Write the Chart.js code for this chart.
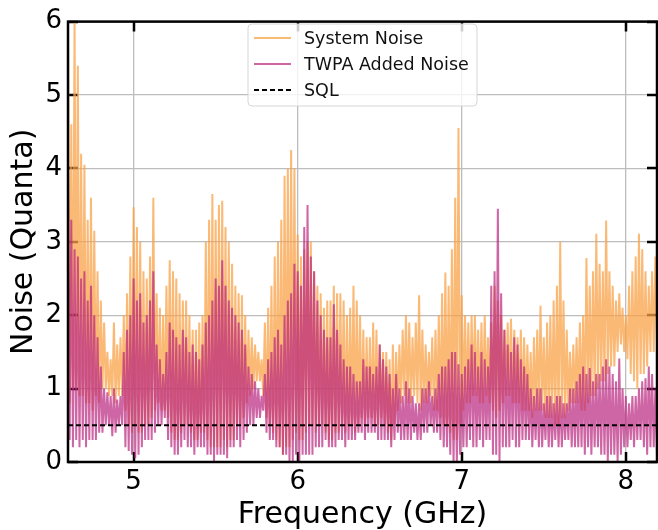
<!DOCTYPE html>
<html>
<head>
<meta charset="utf-8">
<script src="https://cdn.jsdelivr.net/npm/chart.js@4"></script>
<style>
  html, body { margin: 0; padding: 0; background: #fff; }
  #wrap { width: 658px; height: 530px; }
</style>
</head>
<body>
<div id="wrap"><canvas id="noiseChart" width="658" height="530"></canvas></div>
<script>
// Frequency samples (GHz), one row per 0.2 GHz
const freq = [
  4.60,4.61,4.62,4.63,4.64,4.65,4.66,4.67,4.68,4.69,4.70,4.71,4.72,4.73,4.74,4.75,4.76,4.77,4.78,4.79,
  4.80,4.81,4.82,4.83,4.84,4.85,4.86,4.87,4.88,4.89,4.90,4.91,4.92,4.93,4.94,4.95,4.96,4.97,4.98,4.99,
  5.00,5.01,5.02,5.03,5.04,5.05,5.06,5.07,5.08,5.09,5.10,5.11,5.12,5.13,5.14,5.15,5.16,5.17,5.18,5.19,
  5.20,5.21,5.22,5.23,5.24,5.25,5.26,5.27,5.28,5.29,5.30,5.31,5.32,5.33,5.34,5.35,5.36,5.37,5.38,5.39,
  5.40,5.41,5.42,5.43,5.44,5.45,5.46,5.47,5.48,5.49,5.50,5.51,5.52,5.53,5.54,5.55,5.56,5.57,5.58,5.59,
  5.60,5.61,5.62,5.63,5.64,5.65,5.66,5.67,5.68,5.69,5.70,5.71,5.72,5.73,5.74,5.75,5.76,5.77,5.78,5.79,
  5.80,5.81,5.82,5.83,5.84,5.85,5.86,5.87,5.88,5.89,5.90,5.91,5.92,5.93,5.94,5.95,5.96,5.97,5.98,5.99,
  6.00,6.01,6.02,6.03,6.04,6.05,6.06,6.07,6.08,6.09,6.10,6.11,6.12,6.13,6.14,6.15,6.16,6.17,6.18,6.19,
  6.20,6.21,6.22,6.23,6.24,6.25,6.26,6.27,6.28,6.29,6.30,6.31,6.32,6.33,6.34,6.35,6.36,6.37,6.38,6.39,
  6.40,6.41,6.42,6.43,6.44,6.45,6.46,6.47,6.48,6.49,6.50,6.51,6.52,6.53,6.54,6.55,6.56,6.57,6.58,6.59,
  6.60,6.61,6.62,6.63,6.64,6.65,6.66,6.67,6.68,6.69,6.70,6.71,6.72,6.73,6.74,6.75,6.76,6.77,6.78,6.79,
  6.80,6.81,6.82,6.83,6.84,6.85,6.86,6.87,6.88,6.89,6.90,6.91,6.92,6.93,6.94,6.95,6.96,6.97,6.98,6.99,
  7.00,7.01,7.02,7.03,7.04,7.05,7.06,7.07,7.08,7.09,7.10,7.11,7.12,7.13,7.14,7.15,7.16,7.17,7.18,7.19,
  7.20,7.21,7.22,7.23,7.24,7.25,7.26,7.27,7.28,7.29,7.30,7.31,7.32,7.33,7.34,7.35,7.36,7.37,7.38,7.39,
  7.40,7.41,7.42,7.43,7.44,7.45,7.46,7.47,7.48,7.49,7.50,7.51,7.52,7.53,7.54,7.55,7.56,7.57,7.58,7.59,
  7.60,7.61,7.62,7.63,7.64,7.65,7.66,7.67,7.68,7.69,7.70,7.71,7.72,7.73,7.74,7.75,7.76,7.77,7.78,7.79,
  7.80,7.81,7.82,7.83,7.84,7.85,7.86,7.87,7.88,7.89,7.90,7.91,7.92,7.93,7.94,7.95,7.96,7.97,7.98,7.99,
  8.00,8.01,8.02,8.03,8.04,8.05,8.06,8.07,8.08,8.09,8.10,8.11,8.12,8.13,8.14,8.15,8.16,8.17,8.18,8.19
];

// System noise (quanta)
const systemNoise = [
  5.8,0.8, 4.6,1.0, 6.05,1.0, 5.4,0.9, 4.2,0.9, 4.05,0.8, 3.3,0.8, 3.6,0.7, 3.15,0.9, 2.6,0.8,
  2.2,1.0, 1.9,1.0, 1.5,0.9, 1.4,0.9, 1.9,0.8, 1.6,0.9, 1.7,0.9, 2.0,0.7, 2.3,0.5, 2.8,0.4,
  3.47,0.5, 3.2,0.4, 3.0,0.4, 2.6,0.5, 2.5,0.5, 2.8,0.6, 3.6,0.7, 2.3,0.8, 2.1,0.7, 2.0,0.7,
  2.4,0.6, 2.75,0.4, 2.6,0.3, 2.5,0.3, 2.3,0.4, 2.2,0.5, 2.2,0.5, 2.0,0.4, 1.8,0.3, 1.8,0.3,
  1.9,0.4, 2.0,0.4, 3.0,0.3, 3.3,0.2, 3.65,0.2, 3.3,0.2, 3.5,0.2, 3.56,0.3, 3.2,0.2, 3.0,0.3,
  2.7,0.3, 2.4,0.5, 2.3,0.5, 2.27,0.6, 2.0,0.8, 1.8,0.9, 1.7,1.0, 1.6,1.1, 1.5,1.1, 1.4,0.9,
  1.9,0.6, 2.1,0.5, 2.4,0.4, 2.8,0.3, 3.0,0.2, 3.3,0.1, 3.9,0.2, 4.0,0.2, 4.25,0.3, 4.0,0.4,
  3.1,0.3, 2.8,0.3, 2.9,0.4, 3.0,0.5, 3.0,0.5, 2.6,0.4, 2.4,0.5, 2.3,0.5, 2.1,0.4, 2.2,0.3,
  2.2,0.3, 2.4,0.4, 2.3,0.4, 2.3,0.5, 2.2,0.4, 2.0,0.5, 2.1,0.5, 2.4,0.4, 2.2,0.5, 2.0,0.6,
  1.8,0.5, 1.7,0.6, 1.7,0.6, 1.9,0.5, 1.8,0.5, 1.6,0.6, 1.5,0.5, 1.5,0.4, 1.4,0.3, 1.6,0.5,
  1.5,0.7, 1.6,0.8, 1.8,0.9, 2.0,0.8, 1.9,0.8, 1.7,0.9, 1.9,0.8, 2.27,0.7, 1.8,0.8, 1.6,0.8,
  1.5,0.9, 1.7,0.7, 1.8,0.7, 2.0,0.6, 2.3,0.5, 2.58,0.5, 2.4,0.4, 2.9,0.3, 3.6,0.3, 4.55,0.5,
  2.27,0.7, 2.0,0.8, 1.9,0.8, 2.0,0.9, 2.0,0.9, 1.8,0.8, 1.9,0.8, 2.0,0.9, 1.7,0.8, 1.9,0.7,
  2.4,0.6, 2.2,0.7, 2.0,0.8, 1.8,0.9, 1.9,0.9, 1.95,0.8, 1.8,0.8, 1.7,0.8, 1.8,0.7, 1.7,0.7,
  1.6,0.7, 1.5,0.6, 1.7,0.7, 1.8,0.7, 2.13,0.7, 1.7,0.6, 1.9,0.6, 2.0,0.6, 2.2,0.5, 2.4,0.5,
  3.0,0.6, 2.2,0.6, 1.8,0.7, 1.5,0.8, 1.6,0.8, 1.7,0.8, 1.9,0.7, 2.0,0.7, 2.78,0.8, 2.4,0.9,
  2.6,0.9, 3.11,1.0, 2.7,1.1, 2.6,1.1, 3.29,1.2, 2.6,1.3, 2.4,1.3, 2.2,1.5, 2.3,1.6, 2.1,1.5,
  2.0,1.4, 2.4,1.2, 2.6,1.1, 2.8,1.0, 3.11,1.2, 2.9,1.2, 2.6,1.3, 2.4,1.5, 2.6,1.5, 2.8,1.6
];

// TWPA added noise (quanta)
const twpaNoise = [
  4.1,0.3, 3.3,0.2, 2.9,0.3, 2.8,0.2, 2.5,0.3, 2.6,0.2, 2.2,0.3, 2.4,0.3, 2.0,0.3, 1.7,0.4,
  1.3,0.4, 1.0,0.5, 0.95,0.5, 0.9,0.35, 1.0,0.4, 0.85,0.5, 0.9,0.5, 1.5,0.2, 1.8,0.15, 2.0,0.1,
  2.5,0.05, 2.2,0.1, 2.3,0.2, 1.9,0.3, 2.0,0.3, 2.2,0.3, 2.6,0.4, 1.6,0.5, 1.4,0.5, 1.2,0.6,
  1.5,0.3, 1.9,0.2, 1.8,0.1, 1.7,0.1, 1.6,0.2, 1.8,0.3, 1.7,0.2, 1.5,0.2, 1.6,0.1, 1.5,0.2,
  1.4,0.2, 1.6,0.2, 1.9,0.1, 2.0,0.1, 2.2,0.0, 2.5,0.1, 2.4,0.1, 2.75,0.1, 2.4,0.05, 2.2,0.2,
  2.1,0.2, 2.0,0.3, 1.9,0.2, 1.8,0.3, 1.6,0.4, 1.3,0.5, 1.2,0.5, 1.1,0.6, 1.0,0.6, 0.9,0.7,
  1.2,0.4, 1.4,0.3, 1.5,0.3, 1.7,0.2, 1.8,0.2, 1.6,0.1, 2.0,0.1, 2.2,0.0, 2.3,0.0, 2.7,0.1,
  2.6,0.0, 2.4,0.1, 3.2,0.1, 3.5,0.1, 2.8,0.1, 2.6,0.2, 2.2,0.2, 2.0,0.2, 1.8,0.3, 1.7,0.2,
  1.7,0.2, 2.15,0.2, 1.8,0.3, 1.6,0.3, 1.4,0.2, 1.3,0.3, 1.3,0.3, 1.2,0.3, 1.1,0.4, 1.1,0.4,
  1.4,0.3, 1.3,0.4, 1.3,0.4, 1.2,0.4, 1.3,0.3, 1.6,0.3, 1.4,0.3, 1.3,0.3, 1.2,0.2, 1.0,0.3,
  1.2,0.4, 1.0,0.3, 0.9,0.3, 1.1,0.3, 1.0,0.3, 0.9,0.4, 0.8,0.3, 0.8,0.3, 1.0,0.4, 1.0,0.4,
  1.1,0.5, 0.9,0.4, 1.0,0.4, 1.2,0.3, 1.3,0.2, 1.3,0.2, 1.4,0.1, 1.5,0.0, 1.5,0.0, 1.33,0.1,
  1.2,0.2, 1.3,0.2, 1.4,0.3, 1.6,0.2, 1.5,0.2, 1.3,0.3, 1.5,0.2, 1.4,0.3, 1.3,0.3, 2.4,0.1,
  2.6,0.1, 3.45,0.0, 2.3,0.2, 1.8,0.2, 1.6,0.2, 1.5,0.3, 1.7,0.2, 1.6,0.2, 1.4,0.3, 1.3,0.3,
  1.2,0.3, 1.0,0.2, 0.9,0.3, 1.0,0.2, 1.0,0.2, 0.8,0.3, 0.9,0.2, 0.9,0.2, 0.8,0.3, 0.9,0.2,
  0.9,0.2, 0.8,0.3, 0.8,0.3, 1.0,0.2, 1.0,0.2, 1.1,0.2, 1.2,0.2, 1.3,0.1, 1.2,0.2, 1.28,0.1,
  1.1,0.2, 1.2,0.2, 1.2,0.1, 1.3,0.1, 1.4,0.0, 1.3,0.1, 1.2,0.1, 1.1,0.0, 1.41,0.1, 1.0,0.2,
  0.9,0.2, 0.8,0.3, 0.9,0.2, 0.9,0.3, 1.0,0.3, 1.1,0.2, 1.14,0.1, 1.3,0.2, 1.2,0.2, 1.0,0.1
];

// Standard quantum limit
const sqlLevel = 0.5;

// Axis ticks
const xTicks = [5, 6, 7, 8];
const yTicks = [0, 1, 2, 3, 4, 5, 6];

const FONT = 'DejaVu Sans';
const X_MIN = 4.6, X_MAX = 8.19;

const toPoints = (xs, ys) => xs.map((x, i) => ({ x: x, y: ys[i] }));

// inward ticks on all four sides, under the data like matplotlib
const inwardTicks = {
    id: 'inwardTicks',
    beforeDatasetsDraw(chart) {
        const { ctx, chartArea: a, scales } = chart;
        const len = 10;
        ctx.save();
        ctx.strokeStyle = '#000';
        ctx.lineWidth = 2.5;
        ctx.beginPath();
        xTicks.forEach(v => {
            const px = Math.round(scales.x.getPixelForValue(v));
            ctx.moveTo(px, a.bottom); ctx.lineTo(px, a.bottom - len);
            ctx.moveTo(px, a.top); ctx.lineTo(px, a.top + len);
        });
        yTicks.forEach(v => {
            const py = Math.round(scales.y.getPixelForValue(v));
            ctx.moveTo(a.left, py); ctx.lineTo(a.left + len, py);
            ctx.moveTo(a.right, py); ctx.lineTo(a.right - len, py);
        });
        ctx.stroke();
        ctx.restore();
    },
    afterDraw(chart) {
        const { ctx, chartArea: a } = chart;
        ctx.save();
        // frame
        ctx.strokeStyle = '#000';
        ctx.lineWidth = 2.5;
        ctx.strokeRect(a.left, a.top, a.right - a.left, a.bottom - a.top);

        // legend box
        const bx = 248, by = 24, bw = 229, bh = 82, r = 4;
        ctx.beginPath();
        ctx.moveTo(bx + r, by);
        ctx.arcTo(bx + bw, by, bx + bw, by + bh, r);
        ctx.arcTo(bx + bw, by + bh, bx, by + bh, r);
        ctx.arcTo(bx, by + bh, bx, by, r);
        ctx.arcTo(bx, by, bx + bw, by, r);
        ctx.closePath();
        ctx.fillStyle = 'rgba(255,255,255,0.8)';
        ctx.fill();
        ctx.strokeStyle = '#d6d6d6';
        ctx.lineWidth = 1;
        ctx.stroke();

        ctx.font = '17.5px "' + FONT + '"';
        ctx.textBaseline = 'middle';
        ctx.fillStyle = '#111';
        chart.data.datasets.forEach((ds, i) => {
            const y = by + 14 + i * 26;
            ctx.beginPath();
            ctx.strokeStyle = ds.borderColor;
            ctx.lineWidth = ds.legendWidth;
            ctx.setLineDash(ds.borderDash || []);
            ctx.moveTo(bx + 6, y);
            ctx.lineTo(bx + 43, y);
            ctx.stroke();
            ctx.setLineDash([]);
            ctx.fillText(ds.label, bx + 56, y + 1);
        });
        ctx.restore();
    }
};

const ctx = document.getElementById('noiseChart').getContext('2d');
new Chart(ctx, {
    type: 'line',
    data: {
        datasets: [{
            label: 'System Noise',
            data: toPoints(freq, systemNoise),
            borderColor: 'rgba(250,162,72,0.75)',
            borderWidth: 2,
            legendWidth: 2,
            pointRadius: 0,
            tension: 0,
            order: 3
        }, {
            label: 'TWPA Added Noise',
            data: toPoints(freq, twpaNoise),
            borderColor: 'rgba(185,35,125,0.7)',
            borderWidth: 2,
            legendWidth: 2,
            pointRadius: 0,
            tension: 0,
            order: 2
        }, {
            label: 'SQL',
            data: [{ x: X_MIN, y: sqlLevel }, { x: X_MAX, y: sqlLevel }],
            borderColor: '#000',
            borderWidth: 2,
            legendWidth: 2,
            borderDash: [5, 3],
            pointRadius: 0,
            order: 1
        }]
    },
    options: {
        responsive: false,
        animation: false,
        layout: { padding: { top: 15, right: 1, left: 0, bottom: 0 } },
        plugins: {
            legend: { display: false },
            tooltip: { enabled: false }
        },
        scales: {
            x: {
                type: 'linear',
                min: X_MIN,
                max: X_MAX,
                afterBuildTicks: s => { s.ticks = xTicks.map(v => ({ value: v })); },
                afterFit: s => { s.height = 68; },
                ticks: {
                    color: '#000',
                    font: { family: FONT, size: 26 },
                    padding: 5,
                    maxRotation: 0
                },
                grid: { color: '#bdbdbd', lineWidth: 1.3, drawTicks: false },
                border: { display: false },
                title: {
                    display: true,
                    text: 'Frequency (GHz)',
                    color: '#000',
                    font: { family: FONT, size: 30, lineHeight: 1.0 },
                    padding: { top: 0, bottom: 0 }
                }
            },
            y: {
                min: 0,
                max: 6,
                afterBuildTicks: s => { s.ticks = yTicks.map(v => ({ value: v })); },
                afterFit: s => { s.width = 68; },
                ticks: {
                    color: '#000',
                    font: { family: FONT, size: 26 },
                    padding: 6
                },
                grid: { color: '#bdbdbd', lineWidth: 1.3, drawTicks: false },
                border: { display: false },
                title: {
                    display: true,
                    text: 'Noise (Quanta)',
                    color: '#000',
                    font: { family: FONT, size: 30, lineHeight: 1.2 },
                    padding: { top: 6, bottom: 0 }
                }
            }
        }
    },
    plugins: [inwardTicks]
});
</script>
</body>
</html>
